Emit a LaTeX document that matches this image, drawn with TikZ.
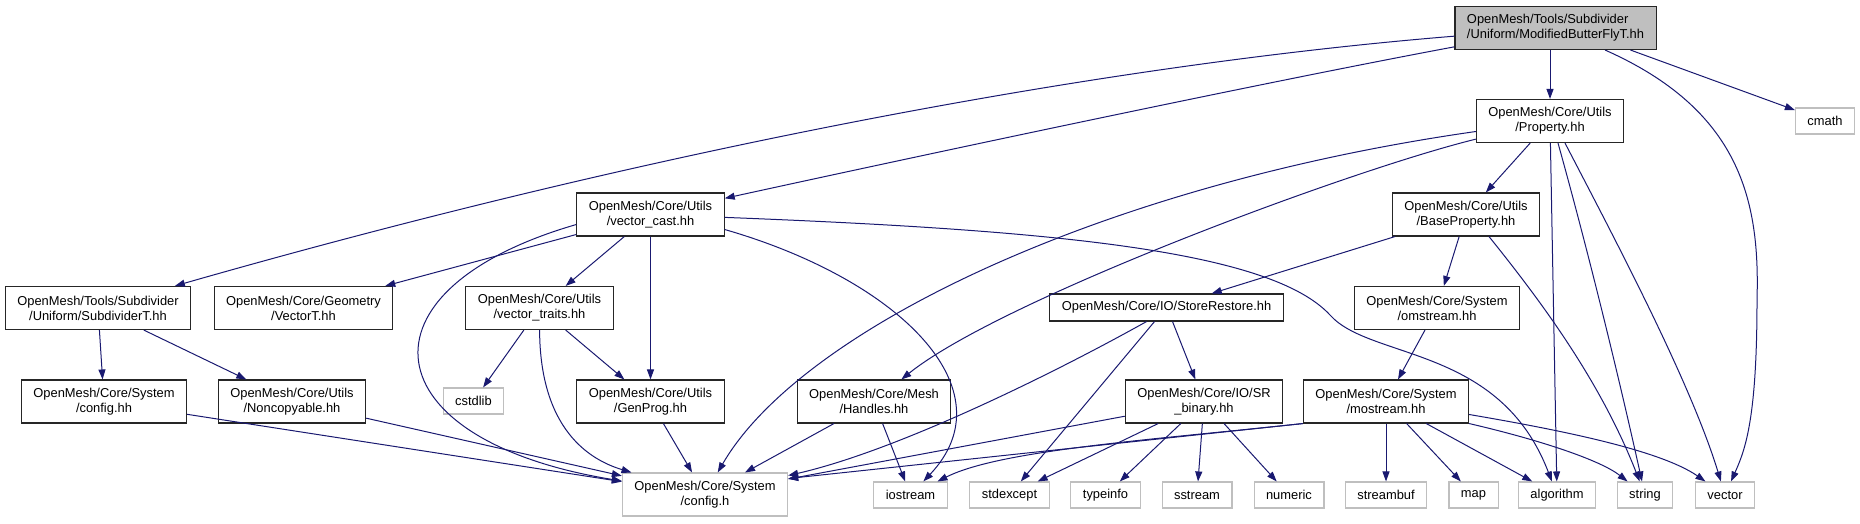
\documentclass[tikz,border=0pt]{standalone}
\usepackage{fontspec}
\setmainfont{Liberation Sans}
\usepackage{xcolor}
\usepackage{tikz}
\usetikzlibrary{arrows.meta}
\definecolor{edgeBlue}{HTML}{191970}
\definecolor{sysGray}{HTML}{BFBFBF}

\begin{document}
\begin{tikzpicture}[x=1pt, y=-1pt, >={Triangle[length=10pt,width=7pt]},
    font=\fontsize{12.9}{15}\selectfont,
    hdr/.style={draw=black!85, line width=1.1pt, fill=white, align=center, inner xsep=12pt, minimum height=43pt},
    sys/.style={draw=sysGray, line width=1.1pt, fill=white, align=center, inner xsep=12pt, minimum height=26pt},
    inc/.style={->, color=edgeBlue, line width=1pt}]
    \useasboundingbox (0,0) rectangle (1860,523);
    % top rows
    \node[hdr, fill=sysGray, align=left] (root) at (1555.5,28) {OpenMesh/Tools/Subdivider\\/Uniform/ModifiedButterFlyT.hh};
    \node[hdr] (prop) at (1550,121) {OpenMesh/Core/Utils\\/Property.hh};
    \node[sys] (cmath) at (1825,121) {cmath};
    \node[hdr] (basep) at (1466,214.5) {OpenMesh/Core/Utils\\/BaseProperty.hh};
    \node[hdr] (vc) at (650.5,214.5) {OpenMesh/Core/Utils\\/vector\_cast.hh};
    \node[hdr] (subd) at (98,308) {OpenMesh/Tools/Subdivider\\/Uniform/SubdividerT.hh};
    \node[hdr] (vect) at (303.5,308) {OpenMesh/Core/Geometry\\/VectorT.hh};
    \node[hdr] (vtr) at (539.5,308) {OpenMesh/Core/Utils\\/vector\_traits.hh};
    \node[hdr, minimum height=27pt] (srest) at (1166.5,307.5) {OpenMesh/Core/IO/StoreRestore.hh};
    \node[hdr] (omstr) at (1437,308) {OpenMesh/Core/System\\/omstream.hh};
    % middle row
    \node[hdr] (cfghh) at (104,401.5) {OpenMesh/Core/System\\/config.hh};
    \node[hdr] (noncp) at (292,401.5) {OpenMesh/Core/Utils\\/Noncopyable.hh};
    \node[sys] (cstd) at (473.5,401) {cstdlib};
    \node[hdr] (genp) at (650.5,401.5) {OpenMesh/Core/Utils\\/GenProg.hh};
    \node[hdr] (hand) at (874,401.5) {OpenMesh/Core/Mesh\\/Handles.hh};
    \node[hdr] (srbin) at (1204,401.5) {OpenMesh/Core/IO/SR\\\_binary.hh};
    \node[hdr] (most) at (1386,401.5) {OpenMesh/Core/System\\/mostream.hh};
    % bottom row
    \node[sys, minimum height=43pt] (cfgh) at (705,494.5) {OpenMesh/Core/System\\/config.h};
    \node[sys] (iost) at (910.5,495) {iostream};
    \node[sys] (stdex) at (1009.5,495) {stdexcept};
    \node[sys] (tinfo) at (1105.5,495) {typeinfo};
    \node[sys] (sstr) at (1197,495) {sstream};
    \node[sys] (numr) at (1289,495) {numeric};
    \node[sys] (strbuf) at (1386,495) {streambuf};
    \node[sys] (map) at (1473.5,495) {map};
    \node[sys] (alg) at (1557,495) {algorithm};
    \node[sys] (str) at (1645,495) {string};
    \node[sys] (vec) at (1725,495) {vector};

    % includes of the root file
    \draw[inc] (root) .. controls (1100,65) and (650,150) .. (subd);
    \draw[inc] (root) .. controls (1250,85) and (900,160) .. (vc);
    \draw[inc] (root.south -| prop) -- (prop);
    \draw[inc] (root) .. controls (1740,110) and (1760,200) .. (1757,300) .. controls (1757,420) and (1745,450) .. (vec);
    \draw[inc] ([xshift=75pt]root.south) -- (cmath);
    % Property.hh
    \draw[inc] (prop) .. controls (1100,185) and (800,330) .. (cfgh);
    \draw[inc] (prop) .. controls (1350,170) and (1000,300) .. (hand);
    \draw[inc] (prop) -- (basep);
    \draw[inc] (prop) -- (alg);
    \draw[inc] ([xshift=8pt]prop.south) .. controls (1585,240) and (1615,360) .. (str);
    \draw[inc] ([xshift=15pt]prop.south) .. controls (1610,230) and (1690,380) .. (vec);
    % vector_cast.hh
    \draw[inc] (vc) -- (vect);
    \draw[inc] (vc) -- (vtr);
    \draw[inc] (vc) -- (genp);
    \draw[inc] ([yshift=-10pt]vc.west) .. controls (350,290) and (370,440) .. (cfgh);
    \draw[inc] ([yshift=-15pt]vc.east) .. controls (900,280) and (1010,390) .. (iost);
    \draw[inc] (vc) .. controls (1050,230) and (1270,250) .. (1330,315) .. controls (1370,360) and (1500,345) .. (alg);
    % SubdividerT.hh
    \draw[inc] (subd) -- (cfghh);
    \draw[inc] (subd) -- (noncp);
    \draw[inc] (cfghh) -- (cfgh);
    \draw[inc] (noncp) -- (cfgh);
    % vector_traits.hh, GenProg.hh, Handles.hh
    \draw[inc] (vtr) -- (cstd);
    \draw[inc] (vtr) -- (genp);
    \draw[inc] (vtr) .. controls (540,430) and (590,460) .. (cfgh);
    \draw[inc] (genp) -- (cfgh);
    \draw[inc] (hand) -- (cfgh);
    \draw[inc] (hand) -- (iost);
    % BaseProperty.hh
    \draw[inc] (basep) -- (srest);
    \draw[inc] (basep) -- (omstr);
    \draw[inc] ([xshift=23pt]basep.south) .. controls (1540,300) and (1600,380) .. (str);
    % StoreRestore.hh, SR_binary.hh
    \draw[inc] ([xshift=-20pt]srest.south) .. controls (1060,370) and (900,450) .. (cfgh);
    \draw[inc] ([xshift=-12pt]srest.south) -- (stdex);
    \draw[inc] ([xshift=6pt]srest.south) -- (srbin);
    \draw[inc] (srbin) -- (cfgh);
    \draw[inc] (srbin) -- (stdex);
    \draw[inc] (srbin) -- (tinfo);
    \draw[inc] (srbin) -- (sstr);
    \draw[inc] (srbin) -- (numr);
    % omstream.hh, mostream.hh
    \draw[inc] (omstr) -- (most);
    \draw[inc] (most.south west) -- ([yshift=16pt]cfgh.east);
    \draw[inc] (most.south west) .. controls (1150,440) and (1000,450) .. (iost);
    \draw[inc] (most) -- (strbuf);
    \draw[inc] (most) -- (map);
    \draw[inc] (most) -- (alg);
    \draw[inc] (most.south east) .. controls (1540,440) and (1600,460) .. (str);
    \draw[inc] ([yshift=-13pt]most.east) .. controls (1560,430) and (1660,450) .. (vec);
\end{tikzpicture}
\end{document}
